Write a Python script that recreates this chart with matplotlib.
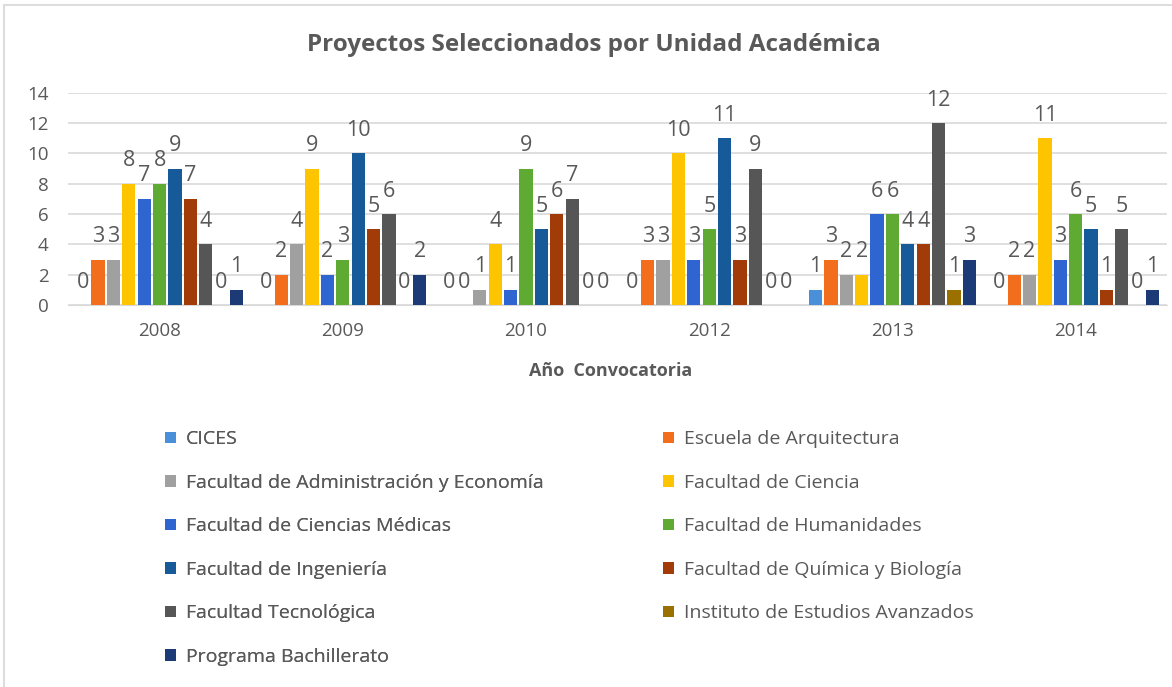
import numpy as np
import matplotlib
matplotlib.use("Agg")
import matplotlib.pyplot as plt
from matplotlib.patches import Patch

# data
years = ["2008", "2009", "2010", "2012", "2013", "2014"]
units = ["CICES", "Escuela de Arquitectura",
         "Facultad de Administración y Economía", "Facultad de Ciencia",
         "Facultad de Ciencias Médicas", "Facultad de Humanidades",
         "Facultad de Ingeniería", "Facultad de Química y Biología",
         "Facultad Tecnológica", "Instituto de Estudios Avanzados",
         "Programa Bachillerato"]
cices = [0, 0, 0, 0, 1, 0]
arquitectura = [3, 2, 0, 3, 3, 2]
administracion = [3, 4, 1, 3, 2, 2]
ciencia = [8, 9, 4, 10, 2, 11]
medicas = [7, 2, 1, 3, 6, 3]
humanidades = [8, 3, 9, 5, 6, 6]
ingenieria = [9, 10, 5, 11, 4, 5]
quimica = [7, 5, 6, 3, 4, 1]
tecnologica = [4, 6, 7, 9, 12, 5]
instituto = [0, 0, 0, 0, 1, 0]
bachillerato = [1, 2, 0, 0, 3, 1]

series = [cices, arquitectura, administracion, ciencia, medicas, humanidades,
          ingenieria, quimica, tecnologica, instituto, bachillerato]
colors = ["#4A90D9", "#F26E1D", "#A0A0A0", "#FFC400", "#2F65D0", "#5EAA33",
          "#175A9A", "#A13C08", "#565656", "#9A7000", "#1C3A76"]

plt.rcParams['font.family'] = ['Open Sans', 'DejaVu Sans']
txt = "#595959"

fig = plt.figure(figsize=(11.72, 6.87), dpi=100)
ax = fig.add_axes([0.058, 0.556, 0.938, 0.309])

x = np.arange(len(years))
step = 0.084
width = 0.072
for i, vals in enumerate(series):
    pos = x + (i - 5) * step
    bars = ax.bar(pos, vals, width, color=colors[i], label=units[i], zorder=3)
    for b, v in zip(bars, vals):
        ax.annotate(str(v), (b.get_x() + b.get_width() / 2, v),
                    xytext=(0, 9), textcoords="offset points",
                    ha="center", va="bottom", fontsize=15.5, color=txt)

ax.set_xlim(-0.5, len(years) - 0.5)
ax.set_ylim(0, 14)
ax.set_yticks(range(0, 15, 2))
ax.set_xticks(x)
ax.set_xticklabels(years)
ax.tick_params(length=0, labelsize=13.5, colors=txt)
ax.tick_params(axis="x", pad=12)
ax.tick_params(axis="y", pad=14)
ax.grid(axis="y", color="#D9D9D9", linewidth=1.2, zorder=0)
for s in ["top", "right", "left"]:
    ax.spines[s].set_visible(False)
ax.spines["bottom"].set_color("#D9D9D9")
ax.set_xlabel("Año  Convocatoria", fontsize=13, fontweight="bold", color=txt)
ax.xaxis.set_label_coords(0.494, -0.27)

fig.text(0.507, 0.935, "Proyectos Seleccionados por Unidad Académica",
         ha="center", va="center", fontsize=17.5, fontweight="bold", color=txt)

# legend in two columns, filled row by row like the original
handles = [Patch(facecolor=colors[i], label=units[i]) for i in range(len(units))]
leg1 = fig.legend(handles=handles[0::2], loc="upper left",
                  bbox_to_anchor=(0.126, 0.399), frameon=False, fontsize=14,
                  labelcolor=txt, handlelength=0.55, handleheight=0.55,
                  handletextpad=0.5, labelspacing=1.31)
fig.legend(handles=handles[1::2], loc="upper left",
           bbox_to_anchor=(0.551, 0.399), frameon=False, fontsize=14,
           labelcolor=txt, handlelength=0.55, handleheight=0.55,
           handletextpad=0.5, labelspacing=1.31)
fig.add_artist(leg1)

# light frame on top and left like the pasted chart
fig.add_artist(plt.Line2D([0.003, 0.003], [0.0, 0.993], color="#DDDDDD", lw=1.5))
fig.add_artist(plt.Line2D([0.003, 1.0], [0.993, 0.993], color="#DDDDDD", lw=1.5))

plt.savefig("out.png", dpi=100, facecolor="white")
